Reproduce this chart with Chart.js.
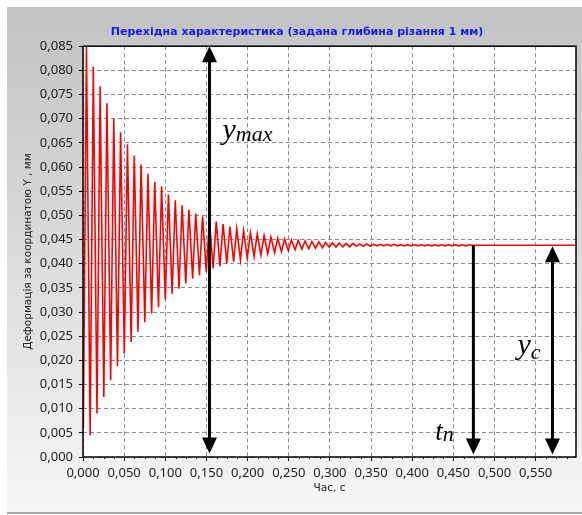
<!DOCTYPE html>
<html>
<head>
<meta charset="utf-8">
<script src="https://cdn.jsdelivr.net/npm/chart.js@4/dist/chart.umd.min.js"></script>
<style>
  html, body { margin: 0; padding: 0; background: #fff; }
  #wrap { position: relative; width: 582px; height: 515px; overflow: hidden; }
  #panel {
    position: absolute; left: 7px; top: 7px; width: 590px; height: 505px;
    background: linear-gradient(#c3c3c3 0%, #d6d6d6 40%, #f6f6f6 100%);
    border-bottom: 2px solid #a8a8a8;
  }
  #myChart { position: absolute; left: 0; top: 0; }
</style>
</head>
<body>
<div id="wrap">
  <div id="panel"></div>
  <canvas id="myChart" width="582" height="515"></canvas>
</div>
<script>
// peaks and troughs of the transient
const timeS = [
  0.0004, 0.0042, 0.0087, 0.0125, 0.0170, 0.0208, 0.0253, 0.0291, 0.0336, 0.0374,
  0.0419, 0.0457, 0.0502, 0.0540, 0.0585, 0.0623, 0.0668, 0.0706, 0.0751, 0.0789,
  0.0834, 0.0872, 0.0917, 0.0955, 0.1000, 0.1038, 0.1083, 0.1121, 0.1166, 0.1204,
  0.1249, 0.1287, 0.1332, 0.1370, 0.1415, 0.1453, 0.1498, 0.1536, 0.1581, 0.1619,
  0.1664, 0.1702, 0.1747, 0.1785, 0.1830, 0.1868, 0.1913, 0.1951, 0.1996, 0.2034,
  0.2079, 0.2117, 0.2162, 0.2200, 0.2245, 0.2283, 0.2328, 0.2366, 0.2411, 0.2449,
  0.2494, 0.2532, 0.2577, 0.2615, 0.2660, 0.2698, 0.2743, 0.2781, 0.2826, 0.2864,
  0.2909, 0.2947, 0.2992, 0.3030, 0.3075, 0.3113, 0.3158, 0.3196, 0.3241, 0.3279,
  0.3324, 0.3362, 0.3407, 0.3445, 0.3490, 0.3528, 0.3573, 0.3611, 0.3656, 0.3694,
  0.3739, 0.3777, 0.3822, 0.3860, 0.3905, 0.3943, 0.3988, 0.4026, 0.4071, 0.4109,
  0.4154, 0.4192, 0.4237, 0.4275, 0.4320, 0.4358, 0.4403, 0.4441, 0.4486, 0.4524,
  0.4569, 0.4607, 0.4652, 0.4690, 0.4720, 0.6000
];
const deformMm = [
  0.0059, 0.0850, 0.0045, 0.0808, 0.0090, 0.0767, 0.0124, 0.0732, 0.0159, 0.0700,
  0.0188, 0.0672, 0.0214, 0.0647, 0.0238, 0.0624, 0.0259, 0.0605, 0.0279, 0.0586,
  0.0297, 0.0569, 0.0310, 0.0560, 0.0326, 0.0543, 0.0338, 0.0531, 0.0348, 0.0521,
  0.0359, 0.0512, 0.0369, 0.0504, 0.0376, 0.0498, 0.0383, 0.0492, 0.0390, 0.0487,
  0.0395, 0.0482, 0.0400, 0.0477, 0.0404, 0.0472, 0.0408, 0.0468, 0.0412, 0.0464,
  0.0415, 0.0461, 0.0418, 0.0458, 0.0421, 0.0455, 0.0423, 0.0453, 0.0425, 0.0451,
  0.0427, 0.0449, 0.0429, 0.0448, 0.0430, 0.0447, 0.0431, 0.0446, 0.0432, 0.0445,
  0.0433, 0.0444, 0.0434, 0.0443, 0.0434, 0.0443, 0.0435, 0.0442, 0.0435, 0.0442,
  0.0436, 0.0441, 0.0436, 0.0441, 0.0436, 0.0440, 0.0437, 0.0440, 0.0437, 0.0440,
  0.0437, 0.0440, 0.0437, 0.0439, 0.0437, 0.0439, 0.0437, 0.0439, 0.0437, 0.0439,
  0.0437, 0.0439, 0.0437, 0.0439, 0.0437, 0.0439, 0.0437, 0.0439, 0.0437, 0.0439,
  0.0437, 0.0439, 0.0437, 0.0439, 0.0438, 0.0438
];
const xTicks = [0, 0.05, 0.1, 0.15, 0.2, 0.25, 0.3, 0.35, 0.4, 0.45, 0.5, 0.55];
const yTicks = [0, 0.005, 0.01, 0.015, 0.02, 0.025, 0.03, 0.035, 0.04, 0.045,
                0.05, 0.055, 0.06, 0.065, 0.07, 0.075, 0.08, 0.085];

const steady = 0.0438;   // y_c
const tMaxArrow = 0.1537; // y_max arrow position
const tSettle = 0.4743;   // t_n
const tYc = 0.5704;

const fmt = v => v.toFixed(3).replace('.', ',');

function arrowHead(ctx, x, y, dir) {
  ctx.beginPath();
  ctx.moveTo(x, y);
  ctx.lineTo(x - 7.5, y - dir * 16);
  ctx.lineTo(x + 7.5, y - dir * 16);
  ctx.closePath();
  ctx.fill();
}
function vArrow(ctx, x, y1, y2, both) {
  ctx.beginPath();
  ctx.moveTo(x, both ? y1 + 10 : y1);
  ctx.lineTo(x, y2 - 10);
  ctx.stroke();
  arrowHead(ctx, x, y2, 1);
  if (both) arrowHead(ctx, x, y1, -1);
}
function label(ctx, main, sub, x, y, size, subSize, subDy) {
  ctx.font = 'italic ' + size + 'px "Liberation Serif"';
  ctx.textBaseline = 'alphabetic';
  ctx.textAlign = 'left';
  ctx.fillText(main, x, y);
  const w = ctx.measureText(main).width;
  ctx.font = 'italic ' + subSize + 'px "Liberation Serif"';
  ctx.fillText(sub, x + w, y + subDy);
}

const frame = {
  id: 'frame',
  beforeDraw(chart) {
    const {ctx, chartArea: a} = chart;
    ctx.save();
    ctx.fillStyle = '#fff';
    ctx.fillRect(a.left, a.top, a.right - a.left, a.bottom - a.top);
    ctx.restore();
  },
  afterDraw(chart) {
    const {ctx, chartArea: a, scales: {x, y}} = chart;
    ctx.save();
    // minor ticks on the time axis
    ctx.strokeStyle = '#000';
    ctx.lineWidth = 1;
    for (let i = 0; i < xTicks.length; i++) {
      for (let j = 1; j < 4; j++) {
        const px = Math.round(x.getPixelForValue(xTicks[i] + j * 0.0125)) + 0.5;
        if (px > a.right) continue;
        ctx.beginPath();
        ctx.moveTo(px, a.bottom);
        ctx.lineTo(px, a.bottom + 2);
        ctx.stroke();
      }
    }
    ctx.lineWidth = 1.5;
    ctx.strokeRect(a.left, a.top, a.right - a.left, a.bottom - a.top);

    // arrows
    ctx.strokeStyle = '#000';
    ctx.fillStyle = '#000';
    ctx.lineWidth = 3;
    const xm = x.getPixelForValue(tMaxArrow);
    vArrow(ctx, xm, y.getPixelForValue(0.085), y.getPixelForValue(0.0007), true);
    const xs = x.getPixelForValue(tSettle);
    vArrow(ctx, xs, y.getPixelForValue(steady), y.getPixelForValue(0.0005), false);
    const xc = x.getPixelForValue(tYc);
    vArrow(ctx, xc, y.getPixelForValue(steady) + 1, y.getPixelForValue(0.0005), true);

    label(ctx, 'y', 'max', xm + 13, y.getPixelForValue(0.0657), 30, 22, 2);
    label(ctx, 'y', 'c', xc - 35, y.getPixelForValue(0.0214), 30, 22, 5);
    label(ctx, 't', 'n', xs - 38, y.getPixelForValue(0.0035), 27, 22, 1);
    ctx.restore();
  }
};

const gridOpts = {
  color: '#8c8c8c',
  tickBorderDash: [],
  tickColor: '#000',
  tickLength: 4
};

const ctx = document.getElementById('myChart').getContext('2d');
const myChart = new Chart(ctx, {
  type: 'line',
  data: {
    datasets: [{
      data: timeS.map((t, i) => ({x: t, y: deformMm[i]})),
      borderColor: '#ff0000',
      borderWidth: 1.6,
      pointRadius: 0,
      tension: 0,
      fill: false
    }]
  },
  options: {
    responsive: false,
    animation: false,
    layout: { padding: { left: 18, right: 6, top: 0, bottom: 0 } },
    plugins: {
      legend: { display: false },
      tooltip: { enabled: false },
      title: {
        display: true,
        text: 'Перехідна характеристика (задана глибина різання 1 мм)',
        color: '#1616ff',
        font: { family: '"DejaVu Sans"', size: 11, weight: 'bold' },
        padding: { top: 26, bottom: 7 }
      }
    },
    scales: {
      x: {
        type: 'linear',
        min: 0,
        max: 0.599,
        afterBuildTicks: s => { s.ticks = xTicks.map(v => ({value: v})); },
        afterFit: s => { s.height = 58; },
        border: { display: false, dash: [4, 3] },
        grid: gridOpts,
        ticks: {
          maxRotation: 0,
          autoSkip: false,
          padding: 4,
          color: '#222',
          font: { family: '"Noto Sans"', size: 13 },
          callback: v => fmt(v)
        },
        title: {
          display: true,
          text: 'Час, с',
          color: '#222',
          font: { family: '"DejaVu Sans"', size: 10.5 },
          padding: { top: 0, bottom: 20 }
        }
      },
      y: {
        min: 0,
        max: 0.085,
        afterBuildTicks: s => { s.ticks = yTicks.map(v => ({value: v})); },
        afterFit: s => { s.width = 65; },
        border: { display: false, dash: [4, 3] },
        grid: gridOpts,
        ticks: {
          autoSkip: false,
          padding: 6,
          color: '#222',
          font: { family: '"Noto Sans"', size: 13 },
          callback: v => fmt(v)
        },
        title: {
          display: true,
          text: 'Деформація за координатою Y , мм',
          color: '#222',
          font: { family: '"DejaVu Sans"', size: 10.5 },
          padding: { top: 4, bottom: 0 }
        }
      }
    }
  },
  plugins: [frame]
});
</script>
</body>
</html>
